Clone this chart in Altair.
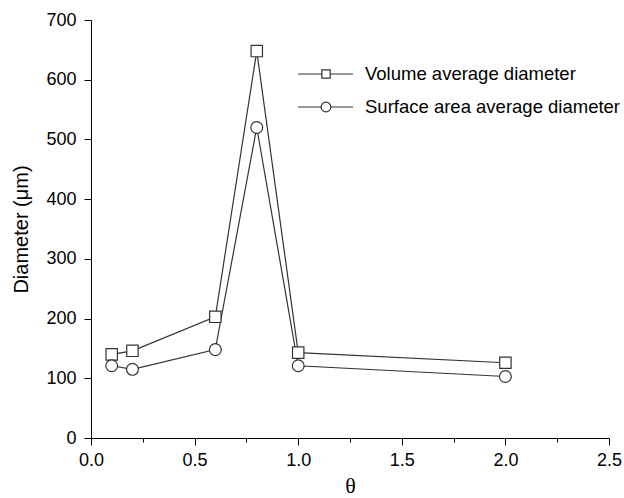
import altair as alt
import pandas as pd

theta = [0.1, 0.2, 0.6, 0.8, 1.0, 2.0]
volume_avg = [140, 146, 203, 648, 143, 126]
surface_avg = [121, 115, 148, 520, 121, 103]
series_names = ["Volume average diameter", "Surface area average diameter"]
x_ticks = [0, 0.25, 0.5, 0.75, 1.0, 1.25, 1.5, 1.75, 2.0, 2.25, 2.5]
y_ticks = list(range(0, 701, 50))

df = pd.DataFrame({
    "theta": theta * 2,
    "diameter": volume_avg + surface_avg,
    "series": [series_names[0]] * len(theta) + [series_names[1]] * len(theta),
})

FONT = "Liberation Sans"
LINE = "#333333"

common_axis = dict(grid=False, labelFont=FONT, labelFontSize=18, labelColor="black",
                   titleColor="black", domainColor="black", tickColor="black",
                   domainWidth=1, tickWidth=1, labelFlush=False, labelOverlap=False)

x_enc = alt.X("theta:Q", scale=alt.Scale(domain=[0, 2.5], nice=False, zero=False),
              axis=alt.Axis(title="θ", values=x_ticks,
                            labelExpr="(datum.value*4) % 2 == 1 ? '' : format(datum.value, '.1f')",
                            tickSize={"condition": {"test": "(datum.value*4) % 2 == 1", "value": 4}, "value": 7},
                            titleFont="Liberation Serif", titleFontSize=22, titleFontWeight="normal",
                            titlePadding=6, labelPadding=6, **common_axis))
y_enc = alt.Y("diameter:Q", scale=alt.Scale(domain=[0, 700], nice=False),
              axis=alt.Axis(title="Diameter (μm)", values=y_ticks,
                            labelExpr="datum.value % 100 != 0 ? '' : datum.label",
                            tickSize={"condition": {"test": "datum.value % 100 != 0", "value": 4}, "value": 7},
                            titleFont=FONT, titleFontSize=20, titleFontWeight="normal", titlePadding=14,
                            labelPadding=8, **common_axis))

base = alt.Chart(df)
lines = base.mark_line(color=LINE, strokeWidth=1.2).encode(x=x_enc, y=y_enc, detail="series:N")
points = base.mark_point(filled=True, fill="white", stroke=LINE, strokeWidth=1.2, opacity=1).encode(
    x="theta:Q", y="diameter:Q",
    shape=alt.Shape("series:N", scale=alt.Scale(domain=series_names, range=["square", "circle"]), legend=None),
    size=alt.Size("series:N", scale=alt.Scale(domain=series_names, range=[130, 140]), legend=None),
)

leg_df = pd.DataFrame({"series": series_names})
legend_layers = []
for i, (name, shp, sz) in enumerate(zip(series_names, ["square", "circle"], [70, 95])):
    ypix = 54 + i * 33
    d = alt.Chart(leg_df[leg_df["series"] == name])
    legend_layers.append(d.mark_rule(color=LINE, strokeWidth=1.2).encode(
        x=alt.value(207), x2=alt.value(262), y=alt.value(ypix)))
    legend_layers.append(d.mark_point(shape=shp, size=sz, filled=True, fill="white", stroke=LINE,
                                      strokeWidth=1.2, opacity=1).encode(x=alt.value(235), y=alt.value(ypix)))
    legend_layers.append(d.mark_text(align="left", baseline="middle", font=FONT, fontSize=18.5,
                                     color="black").encode(x=alt.value(274), y=alt.value(ypix), text="series:N"))

chart = alt.layer(lines, points, *legend_layers).properties(
    width=518, height=418,
    background="white",
    autosize=alt.AutoSizeParams(type="none"),
    padding={"left": 91, "top": 20, "right": 15, "bottom": 60},
).configure_view(stroke=None)

chart.save("out.html", embed_options={"renderer": "svg", "actions": False})
